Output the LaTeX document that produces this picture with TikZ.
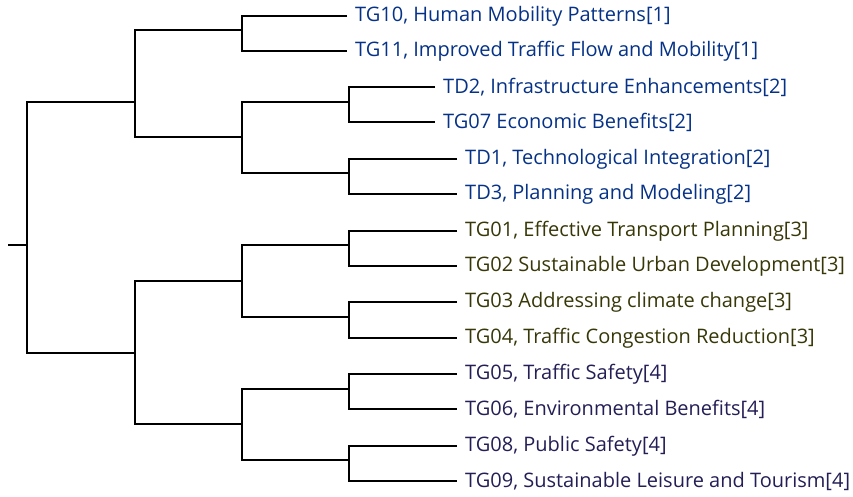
\documentclass[tikz,border=0pt]{standalone}
\usepackage{fontspec}
\setmainfont{Open Sans}
\definecolor{grpblue}{RGB}{5,50,135}
\definecolor{grpolive}{RGB}{55,55,8}
\definecolor{grpnavy}{RGB}{35,30,85}
\tikzset{
  link/.style={line width=2.4pt, black},
  leaf/.style={anchor=west, inner xsep=8pt, inner ysep=0pt, yshift=-3pt, font=\fontsize{20}{22}\selectfont},
  leafa/.style={leaf, text=grpblue},
  leafb/.style={leaf, text=grpolive},
  leafc/.style={leaf, text=grpnavy}
}
\begin{document}
\begin{tikzpicture}[x=1pt,y=-1pt]
    \useasboundingbox (0,0) rectangle (853,497);
    % leaves
    \node[leafa] (tg10) at (347,13) {TG10, Human Mobility Patterns[1]};
    \node[leafa] (tg11) at (347,48) {TG11, Improved Traffic Flow and Mobility[1]};
    \node[leafa] (td2) at (435,84) {TD2, Infrastructure Enhancements[2]};
    \node[leafa] (tg07) at (435,119) {TG07 Economic Benefits[2]};
    \node[leafa] (td1) at (457,156) {TD1, Technological Integration[2]};
    \node[leafa] (td3) at (457,191) {TD3, Planning and Modeling[2]};
    \node[leafb] (tg01) at (457,228) {TG01, Effective Transport Planning[3]};
    \node[leafb] (tg02) at (457,263) {TG02 Sustainable Urban Development[3]};
    \node[leafb] (tg03) at (457,299) {TG03 Addressing climate change[3]};
    \node[leafb] (tg04) at (457,335) {TG04, Traffic Congestion Reduction[3]};
    \node[leafc] (tg05) at (457,371) {TG05, Traffic Safety[4]};
    \node[leafc] (tg06) at (457,406) {TG06, Environmental Benefits[4]};
    \node[leafc] (tg08) at (457,443) {TG08, Public Safety[4]};
    \node[leafc] (tg09) at (457,478) {TG09, Sustainable Leisure and Tourism[4]};
    % joints
    \coordinate (j1) at (242,30);
    \coordinate (j2) at (349,102);
    \coordinate (j3) at (349,173);
    \coordinate (j4) at (349,245);
    \coordinate (j5) at (349,317);
    \coordinate (j6) at (349,389);
    \coordinate (j7) at (349,460);
    \coordinate (j23) at (242,137);
    \coordinate (j45) at (242,281);
    \coordinate (j67) at (242,424);
    \coordinate (up) at (135,102);
    \coordinate (low) at (135,353);
    \coordinate (root) at (27,245);
    \coordinate (stub) at (8,245);
    % branches
    \draw[link] (tg10.west) -| (j1) |- (tg11.west);
    \draw[link] (td2.west) -| (j2) |- (tg07.west);
    \draw[link] (td1.west) -| (j3) |- (td3.west);
    \draw[link] (tg01.west) -| (j4) |- (tg02.west);
    \draw[link] (tg03.west) -| (j5) |- (tg04.west);
    \draw[link] (tg05.west) -| (j6) |- (tg06.west);
    \draw[link] (tg08.west) -| (j7) |- (tg09.west);
    \draw[link] (j2) -| (j23) |- (j3);
    \draw[link] (j4) -| (j45) |- (j5);
    \draw[link] (j6) -| (j67) |- (j7);
    \draw[link] (j1) -| (up) |- (j23);
    \draw[link] (j45) -| (low) |- (j67);
    \draw[link] (up) -| (root) |- (low);
    \draw[link] (stub) -- (root);
\end{tikzpicture}
\end{document}
